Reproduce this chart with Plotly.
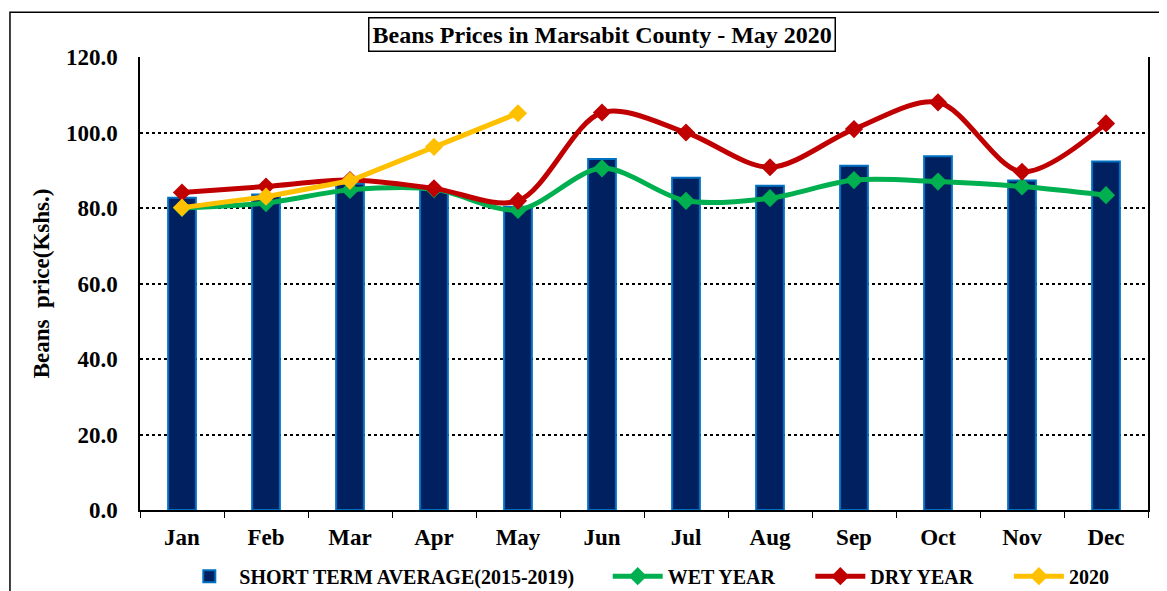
import plotly.graph_objects as go

months = ["Jan", "Feb", "Mar", "Apr", "May", "Jun", "Jul", "Aug", "Sep", "Oct", "Nov", "Dec"]
short_term_avg = [82.7, 83.6, 86.4, 84.8, 80.3, 93.0, 88.0, 85.9, 91.2, 93.7, 87.3, 92.3]
wet_year = [80.0, 81.3, 84.8, 85.0, 79.5, 90.5, 81.9, 82.6, 87.4, 87.0, 85.7, 83.4]
dry_year = [84.1, 85.7, 87.4, 85.2, 81.9, 105.3, 100.0, 90.8, 100.9, 108.0, 89.6, 102.4]
months_2020 = months[:5]
y2020 = [80.1, 83.0, 87.2, 96.2, 105.1]

serif = "Liberation Serif, Times New Roman, serif"
legend_font = dict(size=20, family=serif, weight="bold")

fig = go.Figure()
fig.add_trace(go.Bar(x=months, y=short_term_avg, name="SHORT TERM AVERAGE(2015-2019)",
                     width=0.33, marker=dict(color="#002060", line=dict(color="#0070C0", width=2)),
                     legend="legend"))
fig.add_trace(go.Scatter(x=months, y=wet_year, name="WET YEAR", mode="lines+markers",
                         line=dict(color="#00B050", width=5, shape="spline", smoothing=0.9),
                         marker=dict(symbol="diamond", size=14, color="#00B050"),
                         legend="legend2"))
fig.add_trace(go.Scatter(x=months, y=dry_year, name="DRY YEAR", mode="lines+markers",
                         line=dict(color="#C00000", width=5, shape="spline", smoothing=0.9),
                         marker=dict(symbol="diamond", size=14, color="#C00000"),
                         legend="legend3"))
fig.add_trace(go.Scatter(x=months_2020, y=y2020, name="2020", mode="lines+markers",
                         line=dict(color="#FFC000", width=5),
                         marker=dict(symbol="diamond", size=14, color="#FFC000"),
                         legend="legend4"))

# page body has an 8px margin, so margins are shifted to compensate
leg = dict(orientation="h", y=-0.103, yanchor="top", xanchor="left", font=legend_font,
           itemwidth=50, bgcolor="rgba(0,0,0,0)")
fig.update_layout(
    width=1167, height=591,
    margin=dict(l=132, r=27, t=49, b=89, autoexpand=False),
    plot_bgcolor="white", paper_bgcolor="white",
    font=dict(family=serif, color="black", weight="bold"),
    showlegend=True,
    legend=dict(leg, x=0.039),
    legend2=dict(leg, x=0.464),
    legend3=dict(leg, x=0.665),
    legend4=dict(leg, x=0.862),
    bargap=0.67,
)
fig.update_xaxes(type="category", range=[-0.5, 11.5], showline=True, linecolor="black",
                 linewidth=1.5, ticks="outside", tickson="boundaries", ticklen=6,
                 tickcolor="black", ticklabelstandoff=6, automargin=False,
                 tickfont=dict(size=23, family=serif, weight="bold"), showgrid=False)
fig.update_yaxes(range=[0, 120], dtick=20, tickformat=".1f", showline=True, mirror=True,
                 linecolor="black", linewidth=1.5, showgrid=True, gridcolor="black",
                 gridwidth=2, griddash="dot", zeroline=False, automargin=False,
                 ticklabelstandoff=16,
                 tickfont=dict(size=23, family=serif, weight="bold"),
                 title=dict(text="Beans  price(Kshs.)", standoff=10,
                            font=dict(size=23, family=serif, weight="bold")))

# outer chart border
fig.add_shape(type="rect", xref="paper", yref="paper", x0=-0.129, x1=1.2, y0=-0.4, y1=1.099,
              line=dict(color="black", width=1.5), layer="below")

fig.add_annotation(text="Beans Prices in Marsabit County - May 2020", xref="paper", yref="paper",
                   x=0.458, y=1.05, xanchor="center", yanchor="middle", showarrow=False,
                   font=dict(size=24, family=serif, weight="bold"),
                   bordercolor="black", borderwidth=1.5, borderpad=3, bgcolor="white")

fig.write_html("out.html")
